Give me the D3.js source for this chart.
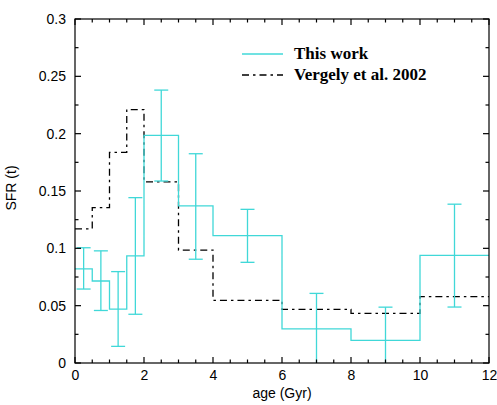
<!DOCTYPE html>
<html>
<head>
<meta charset="utf-8">
<script src="https://cdn.jsdelivr.net/npm/d3@7/dist/d3.min.js"></script>
<style>
  html, body { margin: 0; padding: 0; background: #fff; }
  svg { display: block; }
  .tick text { font-family: "Liberation Sans", Arial, sans-serif; }
</style>
</head>
<body>
<svg id="chart" width="497" height="405"></svg>
<script>
// Age bins (Gyr)
const binEdges = [0, 0.5, 1, 1.5, 2, 3, 4, 6, 8, 10, 12];
// This work: SFR per bin, with error-bar bounds at bin centres
const sfrThisWork = [0.082, 0.0715, 0.047, 0.0935, 0.1985, 0.137, 0.111, 0.0298, 0.0198, 0.0938];
const errLow  = [0.0645, 0.0458, 0.0145, 0.0425, 0.1587, 0.0905, 0.0878, 0.0, 0.0, 0.0488];
const errHigh = [0.1005, 0.0978, 0.0797, 0.1442, 0.238, 0.1825, 0.134, 0.0607, 0.0487, 0.1385];
// Vergely et al. 2002
const sfrVergely = [0.117, 0.1355, 0.1837, 0.221, 0.158, 0.0985, 0.0546, 0.0468, 0.0433, 0.0578];

const xTicks = [0, 2, 4, 6, 8, 10, 12];
const yTicks = [0, 0.05, 0.1, 0.15, 0.2, 0.25, 0.3];
const xMinor = d3.range(0, 12.01, 0.5);
const yMinor = d3.range(0, 0.3001, 0.025);

const svg = d3.select("#chart");
const L = 75, R = 489, T = 19, B = 363;

const x = d3.scaleLinear().domain([0, 12]).range([L, R]);
const y = d3.scaleLinear().domain([0, 0.3]).range([B, T]);

const cyan = "#40d8d8";

// Step path across bins
function stepLine(vals) {
  const pts = [];
  vals.forEach((v, i) => {
    pts.push([x(binEdges[i]), y(v)]);
    pts.push([x(binEdges[i + 1]), y(v)]);
  });
  return d3.line()(pts);
}

// Vergely curve: vertical risers drawn as steps
svg.append("path")
  .attr("d", stepLine(sfrVergely))
  .attr("fill", "none")
  .attr("stroke", "#000")
  .attr("stroke-width", 1.3)
  .attr("stroke-dasharray", "7,4,2.5,4");

// This work curve
svg.append("path")
  .attr("d", stepLine(sfrThisWork))
  .attr("fill", "none")
  .attr("stroke", cyan)
  .attr("stroke-width", 1.3);

// Error bars
const centers = binEdges.slice(0, -1).map((e, i) => (e + binEdges[i + 1]) / 2);
const eb = svg.append("g").attr("stroke", cyan).attr("stroke-width", 1.3).attr("fill", "none");
centers.forEach((c, i) => {
  const cx = x(c);
  eb.append("line").attr("x1", cx).attr("x2", cx).attr("y1", y(errLow[i])).attr("y2", y(errHigh[i]));
  eb.append("line").attr("x1", cx - 7).attr("x2", cx + 7).attr("y1", y(errHigh[i])).attr("y2", y(errHigh[i]));
  if (errLow[i] > 0)
    eb.append("line").attr("x1", cx - 7).attr("x2", cx + 7).attr("y1", y(errLow[i])).attr("y2", y(errLow[i]));
});

// Frame and ticks
const frame = svg.append("g").attr("stroke", "#000").attr("stroke-width", 1.2).attr("fill", "none");
frame.append("rect").attr("x", L).attr("y", T).attr("width", R - L).attr("height", B - T);

const isMajorX = v => xTicks.some(t => Math.abs(t - v) < 1e-6);
const isMajorY = v => yTicks.some(t => Math.abs(t - v) < 1e-6);
xMinor.forEach(v => {
  const len = isMajorX(v) ? 6 : 3.5;
  frame.append("line").attr("x1", x(v)).attr("x2", x(v)).attr("y1", B).attr("y2", B - len);
  frame.append("line").attr("x1", x(v)).attr("x2", x(v)).attr("y1", T).attr("y2", T + len);
});
yMinor.forEach(v => {
  const len = isMajorY(v) ? 6 : 3.5;
  frame.append("line").attr("x1", L).attr("x2", L + len).attr("y1", y(v)).attr("y2", y(v));
  frame.append("line").attr("x1", R).attr("x2", R - len).attr("y1", y(v)).attr("y2", y(v));
});

// Tick labels via axes (tick lines hidden; drawn above)
const xAxis = svg.append("g").attr("transform", `translate(0,${B})`)
  .call(d3.axisBottom(x).tickValues(xTicks).tickSize(0).tickPadding(7).tickFormat(d3.format("d")));
const yAxis = svg.append("g").attr("transform", `translate(${L},0)`)
  .call(d3.axisLeft(y).tickValues(yTicks).tickSize(0).tickPadding(9).tickFormat(d => d === 0 ? "0" : String(d)));
[xAxis, yAxis].forEach(a => {
  a.select(".domain").remove();
  a.selectAll("text").attr("font-size", 14).attr("fill", "#000");
});

// Axis titles
svg.append("text")
  .attr("x", (L + R) / 2).attr("y", 398)
  .attr("text-anchor", "middle")
  .attr("font-family", "Liberation Sans, Arial, sans-serif")
  .attr("font-size", 14)
  .text("age (Gyr)");
svg.append("text")
  .attr("transform", `translate(16,${188}) rotate(-90)`)
  .attr("text-anchor", "middle")
  .attr("font-family", "Liberation Sans, Arial, sans-serif")
  .attr("font-size", 14)
  .text("SFR (t)");

// Legend
const legendItems = [
  { label: "This work", color: cyan, dash: null, yy: 54 },
  { label: "Vergely et al. 2002", color: "#000", dash: "7,4,2.5,4", yy: 75 }
];
const lg = svg.append("g");
legendItems.forEach(d => {
  lg.append("line")
    .attr("x1", 242).attr("x2", 283).attr("y1", d.yy).attr("y2", d.yy)
    .attr("stroke", d.color).attr("stroke-width", 1.3)
    .attr("stroke-dasharray", d.dash);
  lg.append("text")
    .attr("x", 294).attr("y", d.yy + 5)
    .attr("font-family", "Liberation Serif, Times New Roman, serif")
    .attr("font-weight", "bold")
    .attr("font-size", 17)
    .text(d.label);
});
</script>
</body>
</html>
